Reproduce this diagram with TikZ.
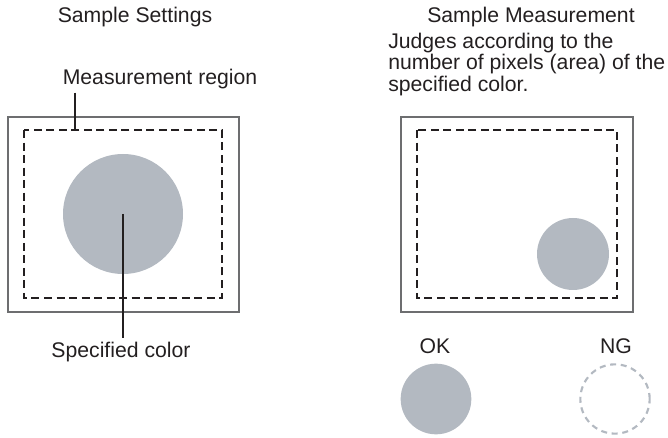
\documentclass[tikz,border=0pt]{standalone}
\usepackage{fontspec}
\setmainfont{Liberation Sans}
\usetikzlibrary{positioning,calc}
\definecolor{SpotGray}{HTML}{B3B9C1}
\definecolor{FrameGray}{HTML}{6D6E70}
\definecolor{InkDark}{HTML}{231F20}
\tikzset{
  frame/.style={draw=FrameGray, line width=1.2pt},
  region/.style={draw=InkDark, line width=1.3pt, dash pattern=on 6pt off 3.4pt},
  spot/.style={circle, fill=SpotGray, inner sep=0pt},
  nospot/.style={circle, draw=SpotGray, line width=1.6pt,
    dash pattern=on 4.5pt off 3.5pt, inner sep=0pt},
  leader/.style={draw=InkDark, line width=1.1pt}
}

\begin{document}
\begin{tikzpicture}[x=0.75pt, y=-0.75pt,
    every node/.style={font=\fontsize{15.9}{16.1}\selectfont,
      text=InkDark, inner sep=0pt}]
  \useasboundingbox (0,0) rectangle (668,438);

  % left: settings
  \node[anchor=base] (setTitle) at (135,23) {Sample Settings};
  \node[anchor=base] (regionLbl) at (160,85) {Measurement region};
  \draw[frame] (8,117) rectangle (239,312);
  \draw[region] (24,130) rectangle (222,298);
  \coordinate (regionTop) at (75,130);
  \node[spot, minimum size=90pt] (colorSpot) at (123,214) {};
  \node[anchor=base] (colorLbl) at (121,358) {Specified color};
  \draw[leader] ($(regionTop |- regionLbl.south)+(0,3)$) -- (regionTop);
  \draw[leader] (colorSpot.center) -- ($(colorSpot |- colorLbl.north)+(0,-4)$);

  % right: measurement
  \node[anchor=base] (measTitle) at (531,23) {Sample Measurement};
  \node[anchor=north west, align=left] (judgeNote) at (388,32.5)
    {Judges according to the\\number of pixels (area) of the\\specified color.};
  \draw[frame] (401,117) rectangle (633,312);
  \draw[region] (417,130) rectangle (617,298);
  \node[spot, minimum size=54pt] (measSpot) at (573,254) {};

  \node[anchor=base] (okLbl) at (435,354) {OK};
  \node[anchor=base] (ngLbl) at (616,354) {NG};
  \node[spot, minimum size=53pt] (okSpot) at (436,399) {};
  \node[nospot, minimum size=52pt] (ngSpot) at (615,399) {};
\end{tikzpicture}
\end{document}
